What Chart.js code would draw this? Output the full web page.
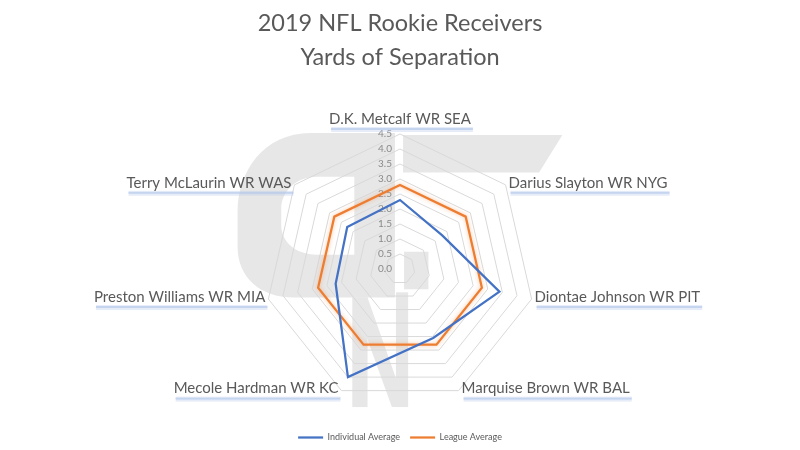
<!DOCTYPE html>
<html>
<head>
<meta charset="utf-8">
<script src="https://cdn.jsdelivr.net/npm/chart.js@4.4.1/dist/chart.umd.min.js"></script>
<style>
  html, body { margin: 0; padding: 0; background: #fff; }
  #wrap { width: 800px; height: 450px; }
</style>
</head>
<body>
<div id="wrap"><canvas id="chart"></canvas></div>
<script>
// --- data ---
const players = [
  'D.K. Metcalf WR SEA',
  'Darius Slayton WR NYG',
  'Diontae Johnson WR PIT',
  'Marquise Brown WR BAL',
  'Mecole Hardman WR KC',
  'Preston Williams WR MIA',
  'Terry McLaurin WR WAS'
];
const individualAvg = [2.3, 1.8, 3.4, 2.55, 4.0, 2.2, 2.25];
const leagueAvg = [2.8, 2.8, 2.8, 2.8, 2.8, 2.8, 2.8];
const titleLines = ['2019 NFL Rookie Receivers', 'Yards of Separation'];

const BLUE = '#4472C4';
const ORANGE = '#ED7D31';
const TEXT = '#595959';

// faint logo behind the plot, offsets in px relative to the radar centre
function drawWatermark(ctx, cx, cy, k) {
  const P = (x, y) => [cx + (x - 400) * k, cy + (y - 267) * k];
  ctx.save();
  ctx.fillStyle = '#e7e7e7';

  // G (ring with a hole)
  ctx.beginPath();
  ctx.moveTo(...P(395, 133));
  ctx.lineTo(...P(312, 133));
  ctx.bezierCurveTo(...P(265, 133), ...P(240, 172), ...P(240, 210));
  ctx.lineTo(...P(240, 245));
  ctx.bezierCurveTo(...P(240, 275), ...P(262, 295), ...P(295, 295));
  ctx.lineTo(...P(395, 295));
  ctx.closePath();
  ctx.moveTo(...P(355, 176));
  ctx.lineTo(...P(355, 253));
  ctx.lineTo(...P(318, 253));
  ctx.bezierCurveTo(...P(297, 253), ...P(283, 240), ...P(283, 224));
  ctx.lineTo(...P(283, 208));
  ctx.bezierCurveTo(...P(283, 190), ...P(298, 176), ...P(318, 176));
  ctx.closePath();
  ctx.fill('evenodd');

  // T bar
  ctx.beginPath();
  ctx.moveTo(...P(403, 135));
  ctx.lineTo(...P(560, 135));
  ctx.lineTo(...P(537, 172));
  ctx.lineTo(...P(403, 172));
  ctx.closePath();
  ctx.fill();

  // block right of the axis
  ctx.fillRect(...P(404, 250), 24 * k, 37 * k);

  // N
  ctx.fillRect(...P(353, 295), 15 * k, 108 * k);
  ctx.beginPath();
  ctx.moveTo(...P(353, 295)); ctx.lineTo(...P(368, 295));
  ctx.lineTo(...P(406, 403)); ctx.lineTo(...P(392, 403));
  ctx.closePath();
  ctx.fill();
  ctx.fillRect(...P(396, 290), 12 * k, 113 * k);
  ctx.restore();
}

const decorPlugin = {
  id: 'decor',
  afterLayout(chart) {
    // push the legend down towards the bottom edge
    const lg = chart.legend;
    if (lg) { lg.top += 18; lg.bottom += 18; }
  },
  beforeDraw(chart) {
    const r = chart.scales.r;
    drawWatermark(chart.ctx, r.xCenter, r.yCenter, r.drawingArea / 133);
  },
  beforeDatasetsDraw(chart) {
    const r = chart.scales.r;
    const ctx = chart.ctx;
    ctx.save();
    // value ticks, left of the vertical axis
    ctx.font = '10px Lato';
    ctx.fillStyle = '#8a8a8a';
    ctx.textAlign = 'right';
    ctx.textBaseline = 'middle';
    r.ticks.forEach(t => {
      const pos = r.getPointPositionForValue(0, t.value);
      ctx.fillText(t.value.toFixed(1), r.xCenter - 8, pos.y);
    });
    // category labels at the outer vertices
    ctx.font = '15px Lato';
    r.getLabels().forEach((lab, i) => {
      const v = r.getPointPosition(i, r.drawingArea);
      const dx = v.x - r.xCenter;
      let x, y, align;
      if (Math.abs(dx) < 1) { align = 'center'; x = v.x; y = v.y - 15; }
      else if (dx > 0) { align = 'left'; x = v.x + 3; y = v.y - 2; }
      else { align = 'right'; x = v.x - 3; y = v.y - 2; }
      const w = ctx.measureText(lab).width;
      const left = align === 'center' ? x - w / 2 : align === 'left' ? x : x - w;
      ctx.fillStyle = 'rgba(185,203,236,0.35)';
      ctx.fillRect(left + 2, y + 8, w, 5);
      ctx.fillStyle = 'rgba(175,196,234,0.6)';
      ctx.fillRect(left + 2, y + 9, w, 2);
      ctx.fillStyle = TEXT;
      ctx.textAlign = align;
      ctx.fillText(lab, x, y);
    });
    ctx.restore();
  },
  beforeDatasetDraw(chart, args) {
    chart.ctx.save();
    if (args.index === 1) {
      chart.ctx.shadowColor = 'rgba(237,125,49,0.45)';
      chart.ctx.shadowBlur = 4;
    }
  },
  afterDatasetDraw(chart) {
    chart.ctx.restore();
  }
};

new Chart(document.getElementById('chart'), {
  type: 'radar',
  data: {
    labels: players,
    datasets: [
      {
        label: 'Individual Average',
        data: individualAvg,
        borderColor: BLUE,
        backgroundColor: BLUE,
        borderWidth: 2.25,
        pointRadius: 0,
        fill: false
      },
      {
        label: 'League Average',
        data: leagueAvg,
        borderColor: ORANGE,
        backgroundColor: ORANGE,
        borderWidth: 2.25,
        pointRadius: 0,
        fill: false
      }
    ]
  },
  options: {
    responsive: true,
    maintainAspectRatio: false,
    animation: false,
    events: [],
    elements: { line: { tension: 0 } },
    layout: { padding: { top: 0, left: 0, right: 0, bottom: 16 } },
    scales: {
      r: {
        min: 0,
        max: 4.5,
        ticks: { stepSize: 0.5, display: false },
        angleLines: { display: false },
        grid: { color: '#d9d9d9', lineWidth: 1 },
        pointLabels: { display: false }
      }
    },
    plugins: {
      title: {
        display: true,
        text: titleLines,
        color: TEXT,
        font: { family: 'Lato', size: 23.5, weight: 'normal', lineHeight: 1.43 },
        padding: { top: 7, bottom: 59 }
      },
      legend: {
        position: 'bottom',
        labels: {
          color: TEXT,
          font: { family: 'Lato', size: 9 },
          usePointStyle: true,
          pointStyle: 'line',
          pointStyleWidth: 25,
          padding: 10
        }
      },
      tooltip: { enabled: false }
    }
  },
  plugins: [decorPlugin]
});
</script>
</body>
</html>
